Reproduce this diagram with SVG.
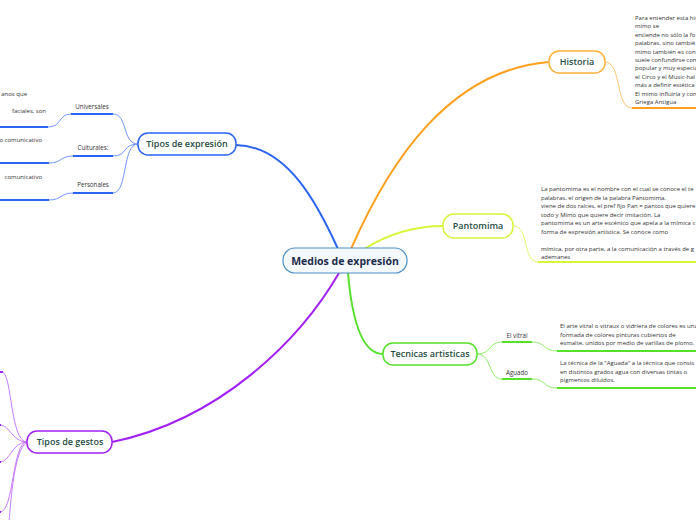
<svg xmlns="http://www.w3.org/2000/svg" width="696" height="520" viewBox="0 0 696 520">
<style>
.node{fill:#ffffff;stroke-width:1.5}
.nt{font-family:"Open Sans","Noto Sans",sans-serif;font-weight:600;font-size:9px;fill:#1f4d42;text-anchor:middle}
.lab{font-family:"Open Sans","Noto Sans",sans-serif;font-size:6.2px;fill:#333333;text-anchor:middle}
.body{font-family:"Open Sans","Noto Sans",sans-serif;font-size:6px;fill:#333333}
.thin{fill:none;stroke-width:1}
.ul{fill:none;stroke-width:2}
</style>
<rect width="696" height="520" fill="#ffffff"/>
<g id="connectors">
  <!-- main branches -->
  <path d="M351,249 C390,160 450,70 549,62" fill="none" stroke="#ff9f1a" stroke-width="2"/>
  <path d="M364,249 C390,233 415,226 443,226" fill="none" stroke="#d9f53a" stroke-width="2"/>
  <path d="M348,273 C352,320 362,354 383,354" fill="none" stroke="#55e02a" stroke-width="2"/>
  <path d="M338,249 C318,205 288,146 236,145" fill="none" stroke="#2a64f5" stroke-width="2"/>
  <path d="M339,273 C300,340 220,420 112,442" fill="none" stroke="#a220f5" stroke-width="2"/>
  <!-- Historia -->
  <path class="thin" stroke="#ffc46b" d="M605,62 C622,62 615,108 632,108"/>
  <path class="ul" stroke="#ff9f1a" d="M632,108 H696"/>
  <!-- Pantomima -->
  <path class="thin" stroke="#e3f56a" d="M513,226 C530,226 522,262 538,262"/>
  <path class="ul" stroke="#d9f53a" d="M538,262 H696"/>
  <!-- Tecnicas -->
  <path class="thin" stroke="#8ef06a" d="M477,354 C492,354 488,342 502,342"/>
  <path class="thin" stroke="#8ef06a" d="M477,354 C492,354 488,379 502,379"/>
  <path class="ul" stroke="#55e02a" d="M502,342 H532"/>
  <path class="ul" stroke="#55e02a" d="M502,379 H532"/>
  <path class="thin" stroke="#8ef06a" d="M532,342 C546,342 543,351 557,351"/>
  <path class="thin" stroke="#8ef06a" d="M532,379 C546,379 543,388 557,388"/>
  <path class="ul" stroke="#55e02a" d="M557,351 H696"/>
  <path class="ul" stroke="#55e02a" d="M557,388 H696"/>
  <!-- Tipos de expresion -->
  <path class="thin" stroke="#6f95ff" d="M138,144 C122,144 128,114 113,114"/>
  <path class="thin" stroke="#6f95ff" d="M138,144 C122,144 128,156 113,156"/>
  <path class="thin" stroke="#6f95ff" d="M138,144 C122,144 128,193 113,193"/>
  <path class="ul" stroke="#2a64f5" d="M71,114 H113"/>
  <path class="ul" stroke="#2a64f5" d="M73,156 H113"/>
  <path class="ul" stroke="#2a64f5" d="M73,193 H113"/>
  <path class="thin" stroke="#6f95ff" d="M71,114 C58,114 62,127 48,127"/>
  <path class="thin" stroke="#6f95ff" d="M73,156 C60,156 62,163 49,163"/>
  <path class="thin" stroke="#6f95ff" d="M73,193 C60,193 62,200 49,200"/>
  <path class="ul" stroke="#2a64f5" d="M-2,127 H48"/>
  <path class="ul" stroke="#2a64f5" d="M-2,163 H49"/>
  <path class="ul" stroke="#2a64f5" d="M-2,200 H49"/>
  <!-- Tipos de gestos -->
  <path class="thin" stroke="#c77dff" d="M27,442 C10,442 12,372 2,372"/>
  <path class="thin" stroke="#c77dff" d="M27,442 C12,442 10,425 0,425"/>
  <path class="thin" stroke="#c77dff" d="M27,442 C12,442 10,462 0,462"/>
  <path class="thin" stroke="#c77dff" d="M27,442 C12,442 14,512 0,512"/>
  <path class="thin" stroke="#c77dff" d="M27,442 C14,450 11,500 9,522"/>
  <path class="ul" stroke="#a220f5" d="M-5,372 H3"/>
  <path class="ul" stroke="#a220f5" d="M-5,425 H1"/>
  <path class="ul" stroke="#a220f5" d="M-5,462 H1"/>
  <path class="ul" stroke="#a220f5" d="M-5,512 H1"/>
</g>
<g id="center">
  <rect x="283" y="248" width="124" height="25" rx="12" fill="#f4f9fd" stroke="#4a90c8" stroke-width="1.2"/>
  <text x="345" y="265" font-family="'Open Sans','Noto Sans',sans-serif" font-weight="700" font-size="10.5" fill="#1c2b4b" text-anchor="middle">Medios de expresión</text>
</g>
<g id="historia">
  <rect class="node" x="549" y="51" width="56" height="22" rx="10" stroke="#ffb13b"/>
  <text class="nt" x="577" y="65">Historia</text>
  <g class="body">
    <text x="635" y="20">Para entender esta his</text>
    <text x="635" y="28.4">mimo se</text>
    <text x="635" y="36.8">entiende no sólo la fo</text>
    <text x="635" y="45.2">palabras, sino tambié</text>
    <text x="635" y="53.6">mimo también es con</text>
    <text x="635" y="62">suele confundirse con</text>
    <text x="635" y="70.4">popular y muy especia</text>
    <text x="635" y="78.8">el Circo y el Music-hal</text>
    <text x="635" y="87.2">más a definir estética</text>
    <text x="635" y="95.6">El mimo influiría y con</text>
    <text x="635" y="104">Griega Antigua</text>
  </g>
</g>
<g id="pantomima">
  <rect class="node" x="443" y="214" width="70" height="24" rx="11" stroke="#d9f53a"/>
  <text class="nt" x="478" y="229">Pantomima</text>
  <g class="body">
    <text x="541" y="191">La pantomima es el nombre con el cual se conoce el te</text>
    <text x="541" y="199.5">palabras, el origen de la palabra Pantomima,</text>
    <text x="541" y="208">viene de dos raíces, el pref fijo Pan = pantos que quiere</text>
    <text x="541" y="216.5">todo y Mimo que quiere decir imitación. La</text>
    <text x="541" y="225">pantomima es un arte escénico que apela a la mímica c</text>
    <text x="541" y="233.5">forma de expresión artística. Se conoce como</text>
    <text x="541" y="250.5">mímica, por otra parte, a la comunicación a través de g</text>
    <text x="541" y="259">ademanes</text>
  </g>
</g>
<g id="tecnicas">
  <rect class="node" x="383" y="343" width="94" height="22" rx="10" stroke="#55e02a"/>
  <text class="nt" x="430" y="357">Tecnicas artisticas</text>
</g>
<g id="vitral">
  <text class="lab" x="517" y="338">El vitral</text>
  <g class="body">
    <text x="560" y="328">El arte vitral o vitraux o vidriera de colores es una</text>
    <text x="560" y="336.5">formada de colores pinturas cubiertos de</text>
    <text x="560" y="345">esmalte, unidos por medio de varillas de plomo.</text>
  </g>
</g>
<g id="aguado">
  <text class="lab" x="517" y="375">Aguado</text>
  <g class="body">
    <text x="560" y="365">La técnica de la "Aguada" a la técnica que consis</text>
    <text x="560" y="373.5">en distintos grados agua con diversas tintas o</text>
    <text x="560" y="382">pigmentos diluidos.</text>
  </g>
</g>
<g id="tipos-expresion">
  <rect class="node" x="138" y="133" width="98" height="22" rx="10" stroke="#2a64f5"/>
  <text class="nt" x="187" y="147">Tipos de expresión</text>
</g>
<g id="universales">
  <text class="lab" x="92" y="109">Universales</text>
  <text class="body" x="27" y="96" text-anchor="end">anos que</text>
  <text class="body" x="46" y="113" text-anchor="end">faciales, son</text>
</g>
<g id="culturales">
  <text class="lab" x="93" y="150">Culturales:</text>
  <text class="body" x="42" y="142" text-anchor="end">o comunicativo</text>
</g>
<g id="personales">
  <text class="lab" x="93" y="187">Personales</text>
  <text class="body" x="42" y="179" text-anchor="end">comunicativo</text>
</g>
<g id="tipos-gestos">
  <rect class="node" x="27" y="431" width="85" height="22" rx="10" stroke="#a220f5"/>
  <text class="nt" x="70" y="445">Tipos de gestos</text>
</g>
</svg>
